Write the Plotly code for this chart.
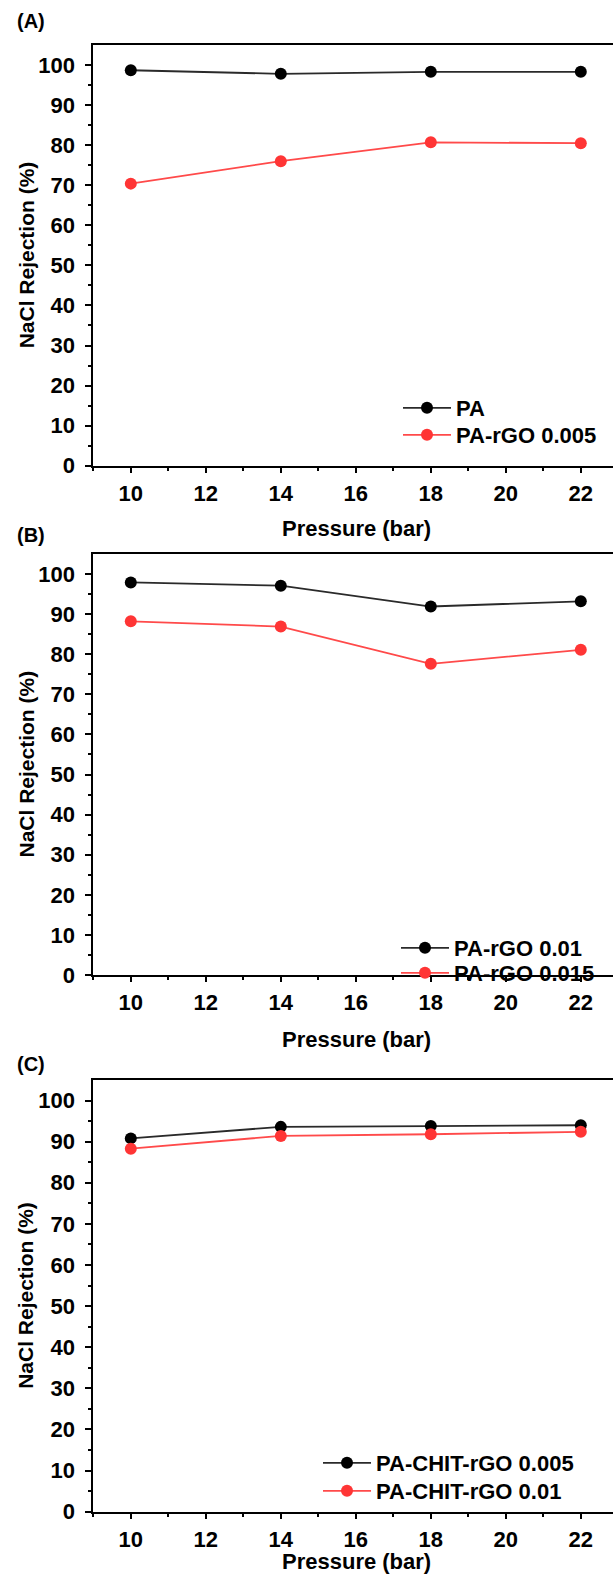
import plotly.graph_objects as go

# ---------------- data ----------------
pressure = [10, 14, 18, 22]

# Panel A
pa = [98.7, 97.8, 98.3, 98.3]
pa_rgo_0005 = [70.4, 76.0, 80.7, 80.5]
# Panel B
pa_rgo_001 = [97.9, 97.1, 91.9, 93.2]
pa_rgo_0015 = [88.2, 86.9, 77.6, 81.1]
# Panel C
pa_chit_rgo_0005 = [90.8, 93.6, 93.8, 94.0]
pa_chit_rgo_001 = [88.3, 91.4, 91.8, 92.4]

x_ticks = [10, 12, 14, 16, 18, 20, 22]
x_minor = [9, 11, 13, 15, 17, 19, 21]
y_ticks = [0, 10, 20, 30, 40, 50, 60, 70, 80, 90, 100]
y_minor = [5, 15, 25, 35, 45, 55, 65, 75, 85, 95]

panel_labels = ["(A)", "(B)", "(C)"]
legend_names = [["PA", "PA-rGO 0.005"],
                ["PA-rGO 0.01", "PA-rGO 0.015"],
                ["PA-CHIT-rGO 0.005", "PA-CHIT-rGO 0.01"]]
series = [[pa, pa_rgo_0005], [pa_rgo_001, pa_rgo_0015],
          [pa_chit_rgo_0005, pa_chit_rgo_001]]

# ---------------- layout geometry (px) ----------------
W, H = 613, 1575
left_px = 93.3
px_per_bar = 37.5
x_range = [9, 9 + (W - left_px) / px_per_bar]
boxes = [(45, 465.7), (554, 975), (1080, 1511.7)]  # (top, bottom) in px
label_y = [21, 535, 1064]
legend_left = [398, 396, 318]
legend_rows = [(407, 434), (947, 972), (1462, 1490)]  # row centre y, px
row_off = 20
xtitle_off = [62.5, 64, 50]

FONT = "Liberation Sans, Arial, sans-serif"
BLACK_M = "#000000"
BLACK_L = "#2a2a2a"
RED_M = "#ff3535"
RED_L = "#ff4a4a"

fig = go.Figure()

k = 0
for i in range(3):
    sfx = "" if i == 0 else str(i + 1)
    for j, (vals, name) in enumerate(zip(series[i], legend_names[i])):
        k += 1
        leg = "legend" if k == 1 else f"legend{k}"
        mc = BLACK_M if j == 0 else RED_M
        lc = BLACK_L if j == 0 else RED_L
        fig.add_trace(go.Scatter(
            x=pressure, y=vals, name=name, mode="lines+markers",
            line=dict(color=lc, width=1.8),
            marker=dict(color=mc, size=12, symbol="circle"),
            xaxis="x" + sfx, yaxis="y" + sfx, legend=leg,
        ))
        fig.layout[leg] = dict(
            x=legend_left[i] / W, y=1 - (legend_rows[i][j] - row_off) / H,
            xanchor="left", yanchor="top", xref="paper", yref="paper",
            bgcolor="rgba(0,0,0,0)", borderwidth=0, itemwidth=48,
            font=dict(family=FONT, size=22, color="black", weight="bold"),
        )

    top, bot = boxes[i]
    ydom = [1 - bot / H, 1 - top / H]
    fig.layout["xaxis" + sfx] = dict(
        domain=[left_px / W, 1.0], range=x_range, anchor="y" + sfx,
        automargin=False,
        showline=True, linecolor="black", linewidth=2, mirror=True,
        ticks="outside", ticklen=5, tickwidth=1.5, tickcolor="black",
        tickvals=x_ticks, ticktext=[str(v) for v in x_ticks],
        minor=dict(tickvals=x_minor, ticks="outside", ticklen=3,
                   tickwidth=1.5, tickcolor="black"),
        showgrid=False, zeroline=False, ticklabelstandoff=2,
        tickfont=dict(family=FONT, size=22, color="black", weight="bold"),
    )
    fig.layout["yaxis" + sfx] = dict(
        domain=ydom, range=[0, 105], anchor="x" + sfx,
        automargin=False,
        showline=True, linecolor="black", linewidth=2, mirror=False,
        ticks="outside", ticklen=6, tickwidth=1.5, tickcolor="black",
        tickvals=y_ticks, ticktext=[str(v) for v in y_ticks],
        minor=dict(tickvals=y_minor, ticks="outside", ticklen=3,
                   tickwidth=1.5, tickcolor="black"),
        showgrid=False, zeroline=False, ticklabelstandoff=6,
        tickfont=dict(family=FONT, size=22, color="black", weight="bold"),
    )
    # panel label
    fig.add_annotation(text=panel_labels[i], x=15 / W, y=1 - label_y[i] / H,
                       xref="paper", yref="paper", xanchor="left",
                       yanchor="middle", showarrow=False,
                       font=dict(family=FONT, size=20, color="black",
                                 weight="bold"))
    # y title
    fig.add_annotation(text="NaCl Rejection (%)", x=26 / W,
                       y=1 - (top + bot) / 2 / H, xref="paper", yref="paper",
                       xanchor="center", yanchor="middle", textangle=-90,
                       showarrow=False,
                       font=dict(family=FONT, size=21, color="black",
                                 weight="bold"))
    # x title
    fig.add_annotation(text="Pressure (bar)", x=356 / W,
                       y=1 - (bot + xtitle_off[i]) / H, xref="paper",
                       yref="paper", xanchor="center", yanchor="middle",
                       showarrow=False,
                       font=dict(family=FONT, size=22, color="black",
                                 weight="bold"))

fig.update_layout(
    width=W, height=H, margin=dict(l=0, r=0, t=0, b=0, autoexpand=False),
    paper_bgcolor="white", plot_bgcolor="white", showlegend=True,
)

fig.write_html("out.html", config={"displayModeBar": False},
               post_script="document.body.style.margin='0';"
                           "document.body.style.overflow='hidden';")
